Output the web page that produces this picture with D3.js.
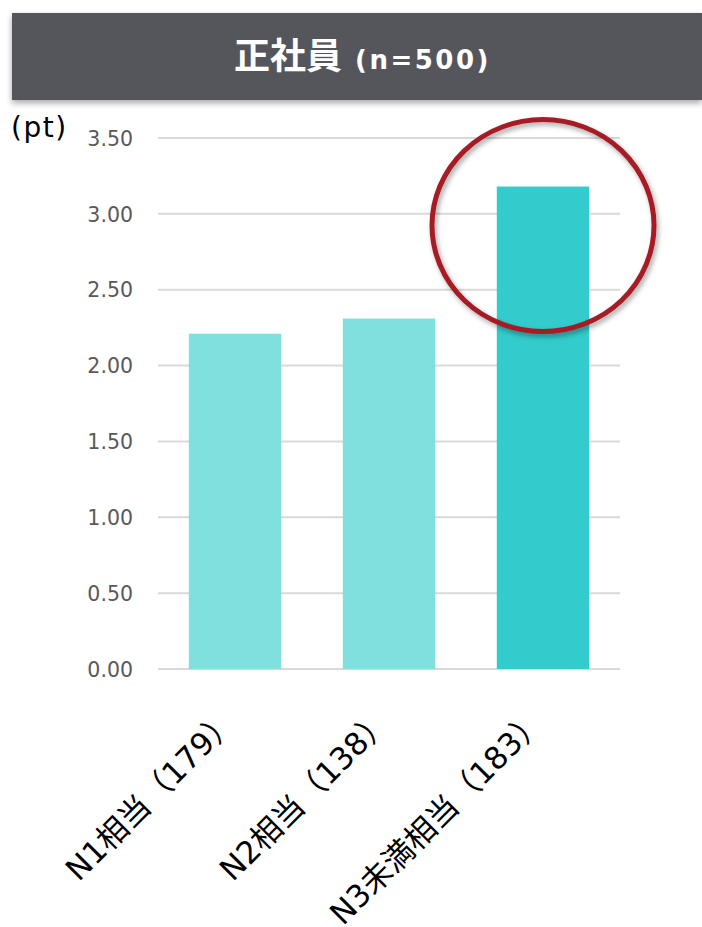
<!DOCTYPE html>
<html>
<head>
<meta charset="utf-8">
<script src="https://cdn.jsdelivr.net/npm/d3@7"></script>
<style>
  html, body { margin: 0; padding: 0; background: #fff; }
  svg { display: block; }
</style>
</head>
<body>
<script>
// Chart data
const categories = ["N1相当（179）", "N2相当（138）", "N3未満相当（183）"];
const values = [2.21, 2.31, 3.18];
const highlight = [false, false, true];
const yTicks = [0, 0.5, 1.0, 1.5, 2.0, 2.5, 3.0, 3.5];
const titleMain = "正社員";
const titleSub = "(n=500)";
const unitLabel = "(pt)";

const W = 702, H = 927;
const fontJP = "'Noto Sans CJK JP', 'Noto Sans', sans-serif";
const fontMix = "'DejaVu Sans', 'Noto Sans CJK JP', sans-serif";

const svg = d3.select("body").append("svg")
  .attr("width", W).attr("height", H);

const defs = svg.append("defs");
const shadow = defs.append("filter").attr("id", "shadow")
  .attr("x", "-20%").attr("y", "-20%").attr("width", "140%").attr("height", "150%");
shadow.append("feDropShadow").attr("dx", 0).attr("dy", 3).attr("stdDeviation", 3)
  .attr("flood-color", "#000").attr("flood-opacity", 0.35);

const ringShadow = defs.append("filter").attr("id", "ringShadow")
  .attr("x", "-20%").attr("y", "-20%").attr("width", "140%").attr("height", "140%");
ringShadow.append("feDropShadow").attr("dx", 2).attr("dy", 3).attr("stdDeviation", 2.5)
  .attr("flood-color", "#000").attr("flood-opacity", 0.35);

// Header banner
svg.append("rect")
  .attr("x", 12).attr("y", 13).attr("width", W - 12).attr("height", 87)
  .attr("fill", "#54575c")
  .attr("filter", "url(#shadow)");

const title = svg.append("text")
  .attr("x", 234).attr("y", 69)
  .attr("fill", "#fff")
  .attr("font-weight", "bold");
title.append("tspan").attr("font-family", fontJP).attr("font-size", 36).text(titleMain);
title.append("tspan").attr("font-family", "'DejaVu Sans', sans-serif")
  .attr("font-size", 26).attr("letter-spacing", 2.5).attr("dx", 13).text(titleSub);

// Plot area
const margin = { left: 158, right: 82, top: 138 };
const plotW = W - margin.left - margin.right;
const y0 = 669;

const x = d3.scaleBand()
  .domain(categories)
  .range([margin.left, margin.left + plotW])
  .paddingInner(0.4)
  .paddingOuter(0.2);

const y = d3.scaleLinear()
  .domain([0, 3.5])
  .range([y0, margin.top]);

// Gridlines
svg.append("g")
  .selectAll("line")
  .data(yTicks)
  .join("line")
  .attr("x1", margin.left).attr("x2", margin.left + plotW)
  .attr("y1", d => y(d)).attr("y2", d => y(d))
  .attr("stroke", "#d9d9d9").attr("stroke-width", 2);

// Y axis labels
const yAxis = d3.axisLeft(y).tickValues(yTicks).tickFormat(d3.format(".2f")).tickSize(0).tickPadding(0);
const yg = svg.append("g")
  .attr("transform", `translate(${margin.left - 25},0)`)
  .call(yAxis);
yg.select(".domain").remove();
yg.selectAll("text")
  .attr("fill", "#595959")
  .attr("font-size", 20.5)
  .attr("font-family", "'DejaVu Sans', sans-serif")
  .attr("dy", "0.35em");

// Unit label
svg.append("text")
  .attr("x", 11).attr("y", 137)
  .attr("fill", "#000")
  .attr("font-size", 28)
  .attr("letter-spacing", 1.5)
  .attr("font-family", "'DejaVu Sans', sans-serif")
  .text(unitLabel);

// Bars
svg.append("g")
  .selectAll("rect")
  .data(categories.map((c, i) => ({ c, v: values[i], h: highlight[i] })))
  .join("rect")
  .attr("x", d => x(d.c))
  .attr("width", x.bandwidth())
  .attr("y", d => y(d.v))
  .attr("height", d => y0 - y(d.v))
  .attr("fill", d => d.h ? "#33cbcb" : "#7fe0de");

// X axis labels (rotated)
const xAxis = d3.axisBottom(x).tickSize(0).tickPadding(0);
const xg = svg.append("g")
  .attr("transform", `translate(0,${y0})`)
  .call(xAxis);
xg.select(".domain").remove();
xg.selectAll("text")
  .attr("fill", "#000")
  .attr("font-size", 31)
  .attr("font-family", fontMix)
  .attr("text-anchor", "end")
  .attr("dy", "0.35em")
  .attr("transform", "translate(-4,46) rotate(-45)");

// Highlight ring around the tallest bar
const hiIdx = highlight.indexOf(true);
svg.append("ellipse")
  .attr("cx", x(categories[hiIdx]) + x.bandwidth() / 2)
  .attr("cy", y(values[hiIdx]) + 39)
  .attr("rx", 111)
  .attr("ry", 106)
  .attr("fill", "none")
  .attr("stroke", "#a61f26")
  .attr("stroke-width", 5)
  .attr("filter", "url(#ringShadow)");
</script>
</body>
</html>
